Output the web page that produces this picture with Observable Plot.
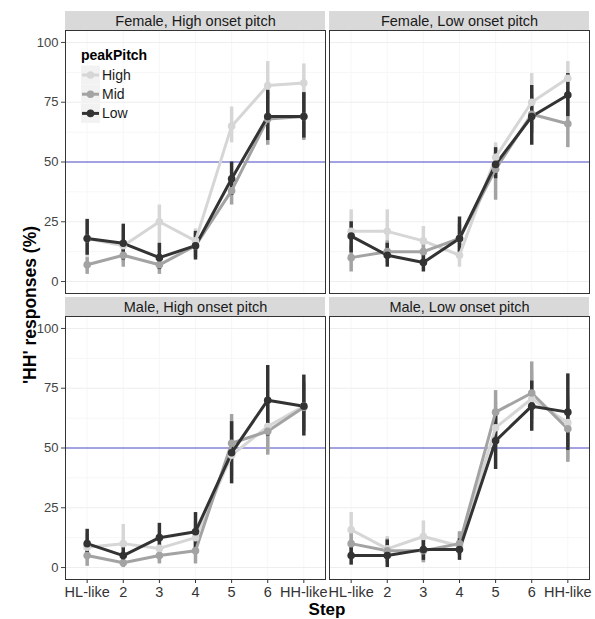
<!DOCTYPE html>
<html><head><meta charset="utf-8">
<script src="https://cdn.jsdelivr.net/npm/d3@7"></script>
<script src="https://cdn.jsdelivr.net/npm/@observablehq/plot@0.6"></script>
<style>body{margin:0;background:#fff}#chart{position:relative;width:595px;height:619px}</style>
</head><body><div id="chart"></div>
<script>
const steps = ["HL-like", "2", "3", "4", "5", "6", "HH-like"];
const pitches = ["High", "Mid", "Low"];
const genders = ["Female", "Male"];
const onsets = ["High onset pitch", "Low onset pitch"];
const yTicks = [0, 25, 50, 75, 100];

// rows: High, Mid, Low ; columns: steps
const meanFemaleHigh = [[18, 15, 25, 17, 65, 82, 83], [7, 11, 7, 15, 38, 68, 69], [18, 16, 10, 15, 43, 69, 69]];
const loFemaleHigh   = [[10, 8, 13, 12, 58, 76, 77], [3, 6, 3, 10, 32, 57, 59], [11, 9, 5, 9, 36, 59, 60]];
const hiFemaleHigh   = [[26, 22, 32, 22, 73, 92, 91], [10, 15, 10, 20, 44, 79, 79], [26, 24, 16, 21, 50, 80, 79]];

const meanFemaleLow = [[21, 21, 17, 11, 52, 75, 85], [10, 12.5, 12.5, 18, 47, 70, 66], [19, 11, 8, 18, 49, 69, 78]];
const loFemaleLow   = [[12, 12, 12, 6, 45, 64, 77], [4, 8, 8, 12, 34, 62, 56], [12, 6, 4, 11, 43, 57, 69]];
const hiFemaleLow   = [[30, 30, 23, 16, 58, 87, 92], [15, 17, 17, 24, 54, 78, 76], [25, 16, 13.5, 27, 56, 82, 87]];

const meanMaleHigh = [[8.5, 10, 8, 12.5, 47, 59, 67.5], [5, 2, 5, 7, 52, 57, 67], [10, 5, 12.5, 15, 48, 70, 67.5]];
const loMaleHigh   = [[3, 2, 2, 6, 38, 48, 57], [0.5, 0, 1.5, 1.5, 46, 47, 57], [5, 1, 7, 7.5, 35, 55, 55]];
const hiMaleHigh   = [[14, 18, 14, 19, 56, 70, 78], [8, 4, 8, 12, 64, 68, 77], [16, 9, 18.5, 23, 61, 84.5, 80.5]];

const meanMaleLow = [[15.8, 7.8, 13, 9, 58.5, 70.6, 60.6], [10, 7, 7, 10, 65, 73, 58], [5, 5, 7.5, 7.5, 53, 67.5, 65]];
const loMaleLow   = [[8, 2, 2, 5, 48, 60, 45], [4, 2, 2, 5, 56, 62, 44], [1, 0, 3, 3, 41, 57, 49]];
const hiMaleLow   = [[23, 13, 19.5, 14, 69, 82, 72], [16, 12, 12, 15, 74, 86, 70], [10.5, 11.5, 12.5, 12, 64.5, 78, 81]];

const panelData = [
  {gender: "Female", onset: "High onset pitch", mean: meanFemaleHigh, lo: loFemaleHigh, hi: hiFemaleHigh},
  {gender: "Female", onset: "Low onset pitch", mean: meanFemaleLow, lo: loFemaleLow, hi: hiFemaleLow},
  {gender: "Male", onset: "High onset pitch", mean: meanMaleHigh, lo: loMaleHigh, hi: hiMaleHigh},
  {gender: "Male", onset: "Low onset pitch", mean: meanMaleLow, lo: loMaleLow, hi: hiMaleLow}
];
const rows = panelData.flatMap(p => pitches.flatMap((pitch, k) => steps.map((s, i) => ({
  gender: p.gender, onset: p.onset, pitch, step: i + 1,
  mean: p.mean[k][i], lo: p.lo[k][i], hi: p.hi[k][i]
}))));
const strips = panelData.map(p => ({gender: p.gender, onset: p.onset, label: `${p.gender}, ${p.onset}`}));

const font = "'Liberation Sans', Arial, Helvetica, sans-serif";
const W = 595, H = 619, mT = 30, mB = 39, mL = 65, mR = 6;
const gapY = 23, gapX = 4;
const innerH = H - mT - mB, innerW = W - mL - mR;
const padY = 2 * gapY / (innerH + gapY), padX = 2 * gapX / (innerW + gapX);
const bandH = innerH / (2 - padY) * (1 - padY);
const yDom = [-5, 105];
const stripPx = 19;
const stripUnits = stripPx * (yDom[1] - yDom[0]) / bandH;
const xDom = [0.4, 7.6];
const stepNums = steps.map((s, i) => i + 1);

const chart = Plot.plot({
  width: W, height: H, marginTop: mT, marginBottom: mB, marginLeft: mL, marginRight: mR,
  style: {fontFamily: font, background: "#fff", overflow: "visible"},
  fx: {domain: onsets, paddingInner: padX, paddingOuter: 0, axis: null},
  fy: {domain: genders, paddingInner: padY, paddingOuter: 0, axis: null},
  x: {domain: xDom},
  y: {domain: yDom},
  color: {domain: pitches, range: ["#d6d6d6", "#a3a3a3", "#333333"]},
  marks: [
    Plot.gridY([12.5, 37.5, 62.5, 87.5], {stroke: "#f6f6f6", strokeOpacity: 1}),
    Plot.gridX(stepNums, {stroke: "#f7f7f7", strokeOpacity: 1}),
    Plot.gridY([0, 25, 75, 100], {stroke: "#eeeeee", strokeOpacity: 1}),
    Plot.ruleY([50], {stroke: "#4646c2", strokeWidth: 1}),
    Plot.ruleX(rows, {fx: "onset", fy: "gender", x: "step", y1: "lo", y2: "hi", stroke: "pitch", strokeWidth: 3.5}),
    Plot.line(rows, {fx: "onset", fy: "gender", x: "step", y: "mean", z: "pitch", stroke: "pitch", strokeWidth: 3}),
    Plot.dot(rows, {fx: "onset", fy: "gender", x: "step", y: "mean", fill: "pitch", r: 3.8}),
    Plot.frame({stroke: "#333", strokeWidth: 1}),
    Plot.rect(strips, {fx: "onset", fy: "gender", x1: xDom[0], x2: xDom[1], y1: yDom[1], y2: yDom[1] + stripUnits, fill: "#d9d9d9"}),
    Plot.text(strips, {fx: "onset", fy: "gender", text: "label", frameAnchor: "top", lineAnchor: "middle", dy: -stripPx / 2, fontSize: 14.5, fill: "#1a1a1a"}),
    Plot.axisX({ticks: stepNums, tickFormat: d => steps[d - 1], tickSize: 4, tickPadding: 3, fontSize: 14.5, label: null, facetAnchor: "bottom", color: "#333"}),
    Plot.axisY({ticks: yTicks, tickSize: 4, tickPadding: 3, fontSize: 13, label: null, facetAnchor: "left", color: "#444"})
  ]
});
document.getElementById("chart").appendChild(chart);

const svg = d3.select(chart);
const color = chart.scale("color");
svg.append("text")
  .attr("transform", `translate(30,${mT + innerH / 2}) rotate(-90)`)
  .attr("text-anchor", "middle").attr("dominant-baseline", "central")
  .attr("font-family", font).attr("font-weight", "bold").attr("font-size", 17.5).attr("fill", "#000")
  .text("'HH' responses (%)");
svg.append("text")
  .attr("x", mL + innerW / 2).attr("y", 609)
  .attr("text-anchor", "middle").attr("dominant-baseline", "central")
  .attr("font-family", font).attr("font-weight", "bold").attr("font-size", 17).attr("fill", "#000")
  .text("Step");

const lg = svg.append("g").attr("font-family", font).attr("text-anchor", "start");
lg.append("text").attr("x", 81).attr("y", 60).attr("font-weight", "bold").attr("font-size", 14).attr("fill", "#000").text("peakPitch");
pitches.forEach((p, i) => {
  const cy = 75 + i * 19.2;
  lg.append("rect").attr("x", 81).attr("y", cy - 9.5).attr("width", 19).attr("height", 19).attr("fill", "#f2f2f2");
  lg.append("line").attr("x1", 82).attr("x2", 99).attr("y1", cy).attr("y2", cy).attr("stroke", color.apply(p)).attr("stroke-width", 3);
  lg.append("circle").attr("cx", 90.5).attr("cy", cy).attr("r", 3.8).attr("fill", color.apply(p));
  lg.append("text").attr("x", 102).attr("y", cy).attr("dominant-baseline", "central").attr("font-size", 14).attr("fill", "#1a1a1a").text(p);
});
</script></body></html>
